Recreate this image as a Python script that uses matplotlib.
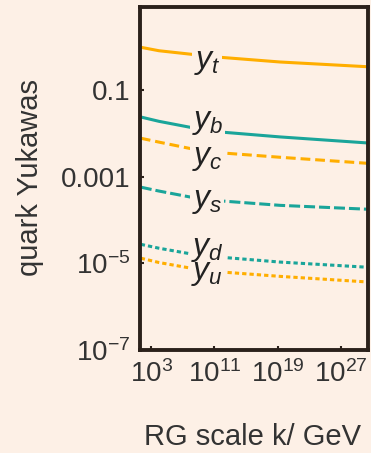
import numpy as np
import matplotlib.pyplot as plt
from matplotlib.patches import Rectangle

plt.rcParams['font.family'] = ['Liberation Sans', 'DejaVu Sans']
plt.rcParams['mathtext.fontset'] = 'custom'
plt.rcParams['mathtext.rm'] = 'Liberation Sans'
plt.rcParams['mathtext.it'] = 'Liberation Sans:italic'

# RG scale, log10(k / GeV)
logk = [1.7, 4.0, 8.0, 12.0, 19.3, 30.4]

# log10 of the quark Yukawa couplings
log_yt = [-0.01, -0.09, -0.17, -0.245, -0.35, -0.46]
log_yb = [-1.62, -1.72, -1.86, -1.97, -2.08, -2.22]
log_yc = [-2.11, -2.20, -2.35, -2.45, -2.55, -2.69]
log_ys = [-3.24, -3.33, -3.47, -3.56, -3.66, -3.75]
log_yd = [-4.56, -4.65, -4.78, -4.86, -4.97, -5.09]
log_yu = [-4.88, -4.98, -5.11, -5.20, -5.30, -5.43]

names = ['$y_t$', '$y_b$', '$y_c$', '$y_s$', '$y_d$', '$y_u$']
label_logy = [-0.35, -1.74, -2.56, -3.55, -4.66, -5.23]

bg = '#fdf0e6'
orange = '#ffae00'
teal = '#1aa59a'
ink = '#2b211b'

curves = [
    (log_yt, orange, '-'),
    (log_yb, teal, '-'),
    (log_yc, orange, (0, (3.2, 1.6))),
    (log_ys, teal, (0, (3.6, 1.3))),
    (log_yd, teal, (0, (1.4, 1.0))),
    (log_yu, orange, (0, (1.4, 1.0))),
]

fig = plt.figure(figsize=(3.71, 4.53), dpi=100, facecolor=bg)
ax = fig.add_axes([140/371, 1-350/453, 228/371, 343/453])
ax.set_facecolor(bg)

k = 10.0 ** np.array(logk)
for (vals, col, ls) in curves:
    ax.plot(k, 10.0 ** np.array(vals), color=col, ls=ls, lw=2.2,
            solid_capstyle='butt', dash_capstyle='butt', zorder=2)

ax.set_xscale('log')
ax.set_yscale('log')
ax.set_xlim(10 ** 1.6, 10 ** 30.4)
ax.set_ylim(1e-7, 10 ** 0.92)

labels = []
for name, ly in zip(names, label_logy):
    labels.append(ax.text(10.0 ** 10.1, 10.0 ** ly, name, fontsize=23,
                          color='#222222', ha='center', va='center', zorder=4))

ax.set_xticks([1e3, 1e11, 1e19, 1e27])
ax.set_xticklabels(['$10^3$', '$10^{11}$', '$10^{19}$', '$10^{27}$'])
ax.set_yticks([1e-7, 1e-5, 1e-3, 1e-1])
ax.set_yticklabels(['$10^{-7}$', '$10^{-5}$', '0.001', '0.1'])
ax.minorticks_off()
ax.tick_params(direction='in', length=3, width=1.5, color=ink,
               labelsize=20, labelcolor='#333333')
ax.tick_params(axis='x', pad=7)
ax.tick_params(axis='y', pad=7)

for sp in ax.spines.values():
    sp.set_linewidth(2.8)
    sp.set_color(ink)

# cut the curves behind each label with a background patch
fig.canvas.draw()
r = fig.canvas.get_renderer()
inv = ax.transData.inverted()
for t in labels:
    bb = t.get_window_extent(r).expanded(1.12, 0.85)
    (x0, y0), (x1, y1) = inv.transform([[bb.x0, bb.y0], [bb.x1, bb.y1]])
    ax.add_patch(Rectangle((x0, y0), x1 - x0, y1 - y0, facecolor=bg,
                           edgecolor='none', zorder=3))

fig.text(30/371, 0.5 + (226.5 - 178)/453, 'quark Yukawas', rotation=90,
         ha='center', va='center', fontsize=21, color='#333333')
fig.text(253/371, 16/453, 'RG scale k/ GeV', ha='center', va='center',
         fontsize=21, color='#333333')

fig.savefig('out.png', dpi=100, facecolor=bg)
